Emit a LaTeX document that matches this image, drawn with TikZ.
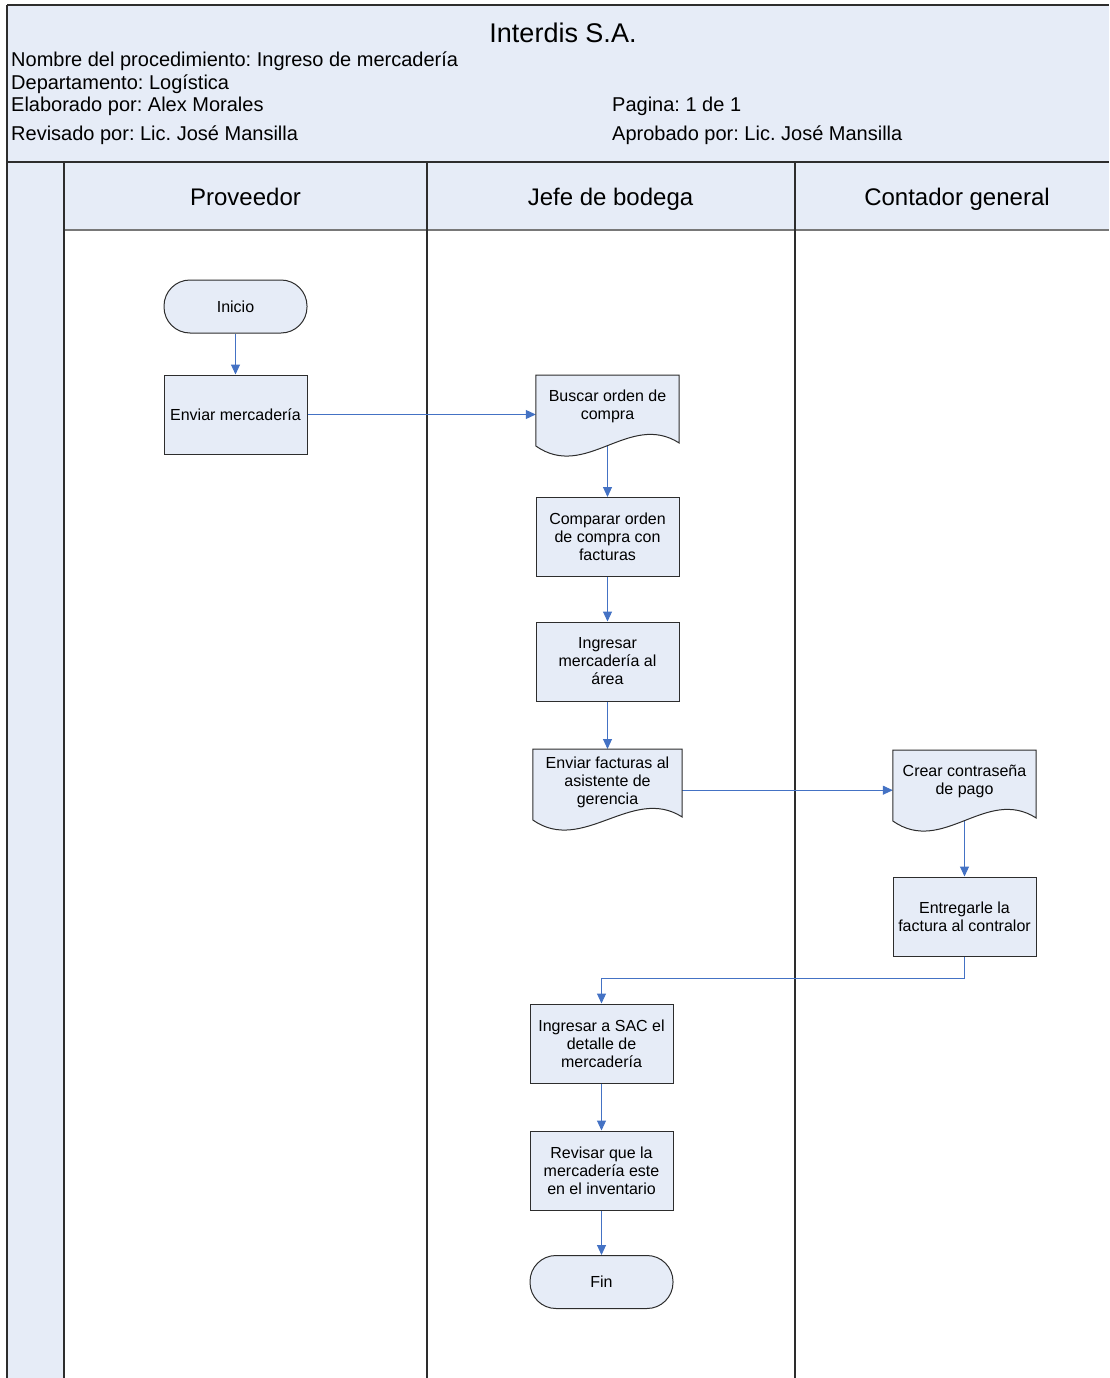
\documentclass[tikz,border=0pt]{standalone}
\usepackage{fontspec}
\setmainfont{Liberation Sans}
\usetikzlibrary{arrows.meta,calc}
\frenchspacing
\definecolor{paleblue}{RGB}{230,236,247}
\definecolor{flowblue}{RGB}{68,114,196}
\definecolor{edgegray}{RGB}{45,45,45}
\definecolor{midgray}{RGB}{120,120,120}
\pgfdeclarelayer{bg}
\pgfdeclarelayer{arrowlayer}
\pgfdeclarelayer{shapelayer}
\pgfsetlayers{bg,arrowlayer,shapelayer,main}
\tikzset{
 nodefont/.style={font=\fontsize{16}{18}\selectfont},
 procbox/.style={draw=edgegray, line width=1pt, fill=paleblue, minimum width=143pt, minimum height=79pt, inner sep=0pt, align=center, nodefont},
 termbox/.style={procbox, minimum height=53pt, rounded corners=26pt},
 doctext/.style={inner sep=0pt, minimum width=143pt, align=center, anchor=north, nodefont},
 docline/.style={draw=edgegray, line width=1pt, fill=paleblue},
 flow/.style={draw=flowblue, line width=1pt, -{Triangle[length=10pt,width=9pt]}},
 lane/.style={draw=edgegray, line width=1.2pt},
 hdr/.style={anchor=base west, inner sep=0pt, font=\fontsize{20}{22}\selectfont},
 lanetitle/.style={anchor=base, inner sep=0pt, font=\fontsize{24}{28}\selectfont},
}
\newcommand{\docoutline}[1]{%
 \path[docline] ($(#1.north west)+(0,-3)$) -- ($(#1.north east)+(0,-3)$) -- ($(#1.north east)+(0,65)$)
   .. controls ($(#1.north east)+(-50,33)$) and ($(#1.north west)+(50,103)$) .. ($(#1.north west)+(0,68)$) -- cycle;}
\begin{document}
\begin{tikzpicture}[x=1pt,y=-1pt]
\useasboundingbox (0,0) rectangle (1109,1378);
\begin{pgfonlayer}{bg}
 \fill[paleblue] (7,5) rectangle (1109,162);
 \fill[paleblue] (7,162) rectangle (64,1378);
 \fill[paleblue] (64,162) rectangle (1109,230);
 \draw[midgray, line width=1.5pt] (64,230) -- (1109,230);
 \draw[lane] (7,5) -- (1109,5);
 \draw[lane] (7,5) -- (7,1378);
 \draw[edgegray, line width=2pt] (7,162) -- (1109,162);
 \draw[lane] (64,162) -- (64,1378);
 \draw[lane] (427,162) -- (427,1378);
 \draw[lane] (795,162) -- (795,1378);
\end{pgfonlayer}
% header texts
\node[anchor=base, inner sep=0pt, font=\fontsize{27}{30}\selectfont] (title) at (563,43) {Interdis S.A.};
\node[hdr] (nombre) at (11,67) {Nombre del procedimiento: Ingreso de mercadería};
\node[hdr] (depto) at (11,89.5) {Departamento: Logística};
\node[hdr] (elab) at (11,111.5) {Elaborado por: Alex Morales};
\node[hdr] (revis) at (11,140.5) {Revisado por: Lic. José Mansilla};
\node[hdr] (pagina) at (612,111.5) {Pagina: 1 de 1};
\node[hdr] (aprob) at (612,140.5) {Aprobado por: Lic. José Mansilla};
% lane titles
\node[lanetitle] (lprov) at (245.5,205) {Proveedor};
\node[lanetitle] (ljefe) at (610.5,205) {Jefe de bodega};
\node[lanetitle] (lcont) at (957,205) {Contador general};
% flow nodes
\node[termbox] (inicio) at (235.5,306.5) {Inicio};
\node[procbox] (enviar) at (235.5,414.5) {Enviar mercadería};
\node[doctext] (buscar) at (607.5,378) [minimum height=56pt] {Buscar orden de\\compra};
\node[procbox] (comparar) at (607.5,537) {Comparar orden\\de compra con\\facturas};
\node[procbox] (ingresar) at (607.5,661.5) {Ingresar\\mercadería al\\área};
\node[doctext, minimum width=149pt] (efact) at (607.5,752) [minimum height=60pt] {Enviar facturas al\\asistente de\\gerencia};
\node[doctext] (crear) at (964.5,753) [minimum height=56pt] {Crear contraseña\\de pago};
\node[procbox] (entregar) at (964.5,916.5) {Entregarle la\\factura al contralor};
\node[procbox] (sac) at (601.5,1043.5) {Ingresar a SAC el\\detalle de\\mercadería};
\node[procbox] (revisar) at (601.5,1170.5) {Revisar que la\\mercadería este\\en el inventario};
\node[termbox] (fin) at (601.5,1282) {Fin};
\begin{pgfonlayer}{shapelayer}
 \docoutline{buscar}
 \docoutline{efact}
 \docoutline{crear}
\end{pgfonlayer}
\begin{pgfonlayer}{arrowlayer}
 \draw[flow] (inicio.south) -- (enviar.north);
 \draw[flow] (enviar.east) -- (enviar.east -| buscar.west);
 \draw[flow] (buscar.south) -- (comparar.north);
 \draw[flow] (comparar.south) -- (ingresar.north);
 \draw[flow] ([yshift=3pt]ingresar.south) -- ([yshift=3pt]efact.north);
 \draw[flow] ([yshift=-8pt]efact.east) -- ([yshift=-8pt]efact.east -| crear.west);
 \draw[flow] (crear.south) -- (entregar.north);
 \draw[flow] (entregar.south) -- ++(0,22) -| (sac.north);
 \draw[flow] (sac.south) -- (revisar.north);
 \draw[flow] (revisar.south) -- (fin.north);
\end{pgfonlayer}
\end{tikzpicture}
\end{document}
